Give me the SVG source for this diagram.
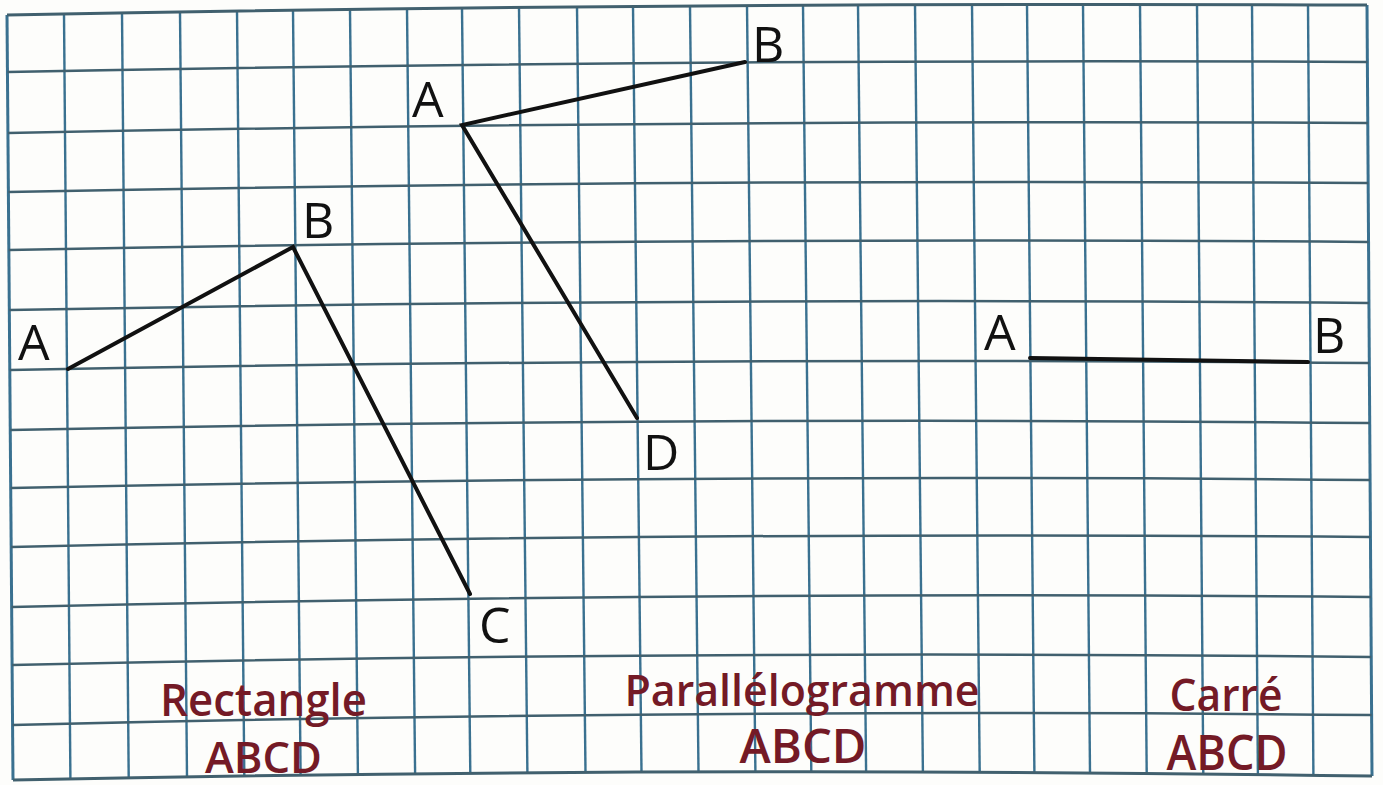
<svg xmlns="http://www.w3.org/2000/svg" width="1383" height="785" viewBox="0 0 1383 785">
<style>
.v{stroke:#3a7190;stroke-width:2.4;fill:none}
.h{stroke:#41606e;stroke-width:2.5;fill:none}
.b{stroke-width:3}
.fig{stroke:#111;stroke-width:4;fill:none;stroke-linejoin:miter;stroke-linecap:round}
.pt{font-family:"Open Sans","Liberation Sans",sans-serif;font-size:50px;fill:#111}
.lb{font-family:"Open Sans","Liberation Sans",sans-serif;font-weight:600;fill:#741a26}
</style>
<rect width="1383" height="785" fill="#fdfdfb"/>
<g id="grid">
<g id="vertical-lines">
<line class="v b" x1="7" y1="15" x2="13" y2="780"/>
<line class="v" x1="64" y1="13.9" x2="70.4" y2="778.9"/>
<line class="v" x1="122" y1="12.9" x2="128.7" y2="777.8"/>
<line class="v" x1="180" y1="12" x2="187" y2="776.9"/>
<line class="v" x1="237" y1="11.1" x2="244.3" y2="776.1"/>
<line class="v" x1="293" y1="10.3" x2="300.6" y2="775.2"/>
<line class="v" x1="350" y1="9.5" x2="357.9" y2="774.5"/>
<line class="v" x1="407" y1="8.8" x2="415.1" y2="773.8"/>
<line class="v" x1="462" y1="8.1" x2="470.3" y2="773.3"/>
<line class="v" x1="519" y1="7.5" x2="527.4" y2="772.9"/>
<line class="v" x1="577" y1="6.9" x2="585.5" y2="772.4"/>
<line class="v" x1="633" y1="6.4" x2="641.5" y2="772.2"/>
<line class="v" x1="690" y1="6" x2="698.5" y2="772"/>
<line class="v" x1="747" y1="5.6" x2="755.4" y2="771.9"/>
<line class="v" x1="803" y1="5.3" x2="811.3" y2="771.8"/>
<line class="v" x1="858" y1="5" x2="866.1" y2="771.9"/>
<line class="v" x1="915" y1="4.8" x2="922.9" y2="772"/>
<line class="v" x1="972" y1="4.6" x2="979.7" y2="772.2"/>
<line class="v" x1="1027" y1="4.5" x2="1034.4" y2="772.5"/>
<line class="v" x1="1083" y1="4.4" x2="1090" y2="772.9"/>
<line class="v" x1="1140" y1="4.5" x2="1146.7" y2="773.4"/>
<line class="v" x1="1197" y1="4.5" x2="1203.3" y2="773.9"/>
<line class="v" x1="1252" y1="4.6" x2="1257.9" y2="774.5"/>
<line class="v" x1="1308" y1="4.8" x2="1313.4" y2="775.2"/>
<line class="v b" x1="1367" y1="5" x2="1372" y2="776"/>
</g>
<g id="horizontal-lines">
<path class="h b" d="M7 15 Q687 2 1367 5"/>
<path class="h" d="M7.5 72 Q687.5 58.7 1367.4 62"/>
<path class="h" d="M7.9 133 Q687.9 119.4 1367.8 123"/>
<path class="h" d="M8.4 192 Q688.3 178.6 1368.2 183"/>
<path class="h" d="M8.8 250 Q688.7 236.8 1368.5 242"/>
<path class="h" d="M9.3 310 Q689.1 297 1368.9 303"/>
<path class="h" d="M9.8 370 Q689.5 356.7 1369.3 363"/>
<path class="h" d="M10.2 430 Q690 416.3 1369.7 423"/>
<path class="h" d="M10.7 488 Q690.4 473.6 1370.1 480"/>
<path class="h" d="M11.2 547 Q690.8 531.2 1370.5 537"/>
<path class="h" d="M11.6 607 Q691.2 591 1370.8 597"/>
<path class="h" d="M12.1 665 Q691.6 649.6 1371.2 657"/>
<path class="h" d="M12.5 725 Q692 708.3 1371.6 715"/>
<path class="h b" d="M13 780 Q692.5 766 1372 776"/>
</g>
</g>
<g id="rectangle">
<polyline class="fig" points="68,369 293,247 470,594"/>
<text class="pt" x="18" y="360">A</text>
<text class="pt" x="302" y="238">B</text>
<text class="pt" x="479" y="643">C</text>
<text class="lb" x="263.5" y="716" font-size="45" text-anchor="middle" textLength="207" lengthAdjust="spacingAndGlyphs">Rectangle</text>
<text class="lb" x="263.5" y="773" font-size="44" text-anchor="middle" textLength="117" lengthAdjust="spacingAndGlyphs">ABCD</text>
</g>
<g id="parallelogramme">
<polyline class="fig" points="745,62 462,125 637,418"/>
<text class="pt" x="412" y="117">A</text>
<text class="pt" x="752" y="62">B</text>
<text class="pt" x="643" y="470">D</text>
<text class="lb" x="802" y="706" font-size="44" text-anchor="middle" textLength="355" lengthAdjust="spacingAndGlyphs">Parallélogramme</text>
<text class="lb" x="803" y="763" font-size="47" text-anchor="middle" textLength="127" lengthAdjust="spacingAndGlyphs">ABCD</text>
</g>
<g id="carre">
<line class="fig" x1="1030" y1="358" x2="1308" y2="362"/>
<text class="pt" x="984" y="350">A</text>
<text class="pt" x="1313" y="353">B</text>
<text class="lb" x="1226" y="711" font-size="45" text-anchor="middle" textLength="113" lengthAdjust="spacingAndGlyphs">Carré</text>
<text class="lb" x="1227" y="770" font-size="48" text-anchor="middle" textLength="121" lengthAdjust="spacingAndGlyphs">ABCD</text>
</g>
</svg>
